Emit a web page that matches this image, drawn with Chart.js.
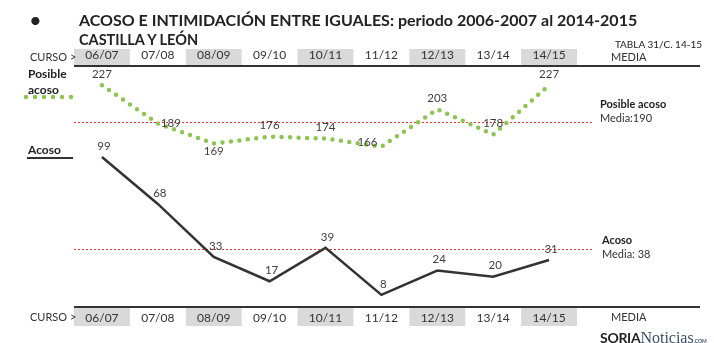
<!DOCTYPE html>
<html>
<head>
<meta charset="utf-8">
<script src="https://cdn.jsdelivr.net/npm/chart.js@4.4.1/dist/chart.umd.min.js"></script>
<style>
  html, body { margin: 0; padding: 0; background: #fff; }
  #wrap { position: relative; width: 714px; height: 343px; font-family: Lato, "Open Sans", sans-serif; color: #222; }
  #wrap canvas { position: absolute; left: 0; top: 0; }
  .t { position: absolute; white-space: nowrap; line-height: 1; }
  .b { font-weight: bold; }
</style>
</head>
<body>
<div id="wrap">
  <canvas id="acosoChart" width="714" height="343"></canvas>
  <div class="t" style="left:29px; top:9px; font-size:22px;">•</div>
  <div class="t b" style="left:79px; top:12px; font-size:16px;">ACOSO E INTIMIDACIÓN ENTRE IGUALES: periodo 2006-2007 al 2014-2015</div>
  <div class="t b" style="left:79px; top:33px; font-size:14.5px;">CASTILLA Y LEÓN</div>
  <div class="t" style="right:12px; top:39px; font-size:10px;">TABLA 31/C. 14-15</div>
  <div class="t" style="left:30px; top:51px; font-size:11px; color:#333;">CURSO &gt;</div>
  <div class="t" style="left:611px; top:51px; font-size:11px; color:#333;">MEDIA</div>
  <div class="t" style="left:30px; top:311px; font-size:11px; color:#333;">CURSO &gt;</div>
  <div class="t" style="left:611px; top:311px; font-size:11px; color:#333;">MEDIA</div>
  <div class="t b" style="left:28px; top:68px; font-size:12px;">Posible</div>
  <div class="t b" style="left:28px; top:84px; font-size:12px;">acoso</div>
  <div class="t b" style="left:28px; top:144px; font-size:12px;">Acoso</div>
  <div class="t b" style="left:600px; top:98px; font-size:11px;">Posible acoso</div>
  <div class="t" style="left:600px; top:112px; font-size:11px; color:#333;">Media:190</div>
  <div class="t b" style="left:602px; top:234px; font-size:11px;">Acoso</div>
  <div class="t" style="left:602px; top:248px; font-size:11px; color:#333;">Media: 38</div>
  <div class="t" style="left:600px; top:330px; font-size:14px;">
    <span style="font-weight:bold; color:#222; letter-spacing:-0.3px;">SORIA</span><span style="font-family:'Liberation Serif', serif; color:#3d4f63; font-size:16px;">Noticias</span><span style="font-size:5px; font-weight:bold; color:#3d4f63;">.COM</span>
  </div>
</div>

<script>
const cursos = ["06/07", "07/08", "08/09", "09/10", "10/11", "11/12", "12/13", "13/14", "14/15"];
const posibleAcoso = [227, 189, 169, 176, 174, 166, 203, 178, 227];
const acoso = [99, 68, 33, 17, 39, 8, 24, 20, 31];
const mediaPosible = 190;
const mediaAcoso = 38;

// donde va cada etiqueta de valor de la serie "posible acoso"
const posPosible = ["above", "right", "below", "above", "above", "left", "above", "above", "above"];

const greenDots = "#8fc454";
const darkLine = "#333333";
const redDots = "#e8322e";

// cajas grises de los cursos, lineas de cabecera y lineas de media
const decoracion = {
  id: "decoracion",
  beforeDraw(chart) {
    const { ctx, chartArea } = chart;
    const xs = chart.scales.x;
    const band = chartArea.width / cursos.length;
    ctx.save();
    ctx.fillStyle = "#d9d9d9";
    cursos.forEach((c, i) => {
      if (i % 2 !== 0) return;
      const cx = xs.getPixelForValue(i);
      ctx.fillRect(cx - band / 2, chartArea.top - 17, band, 16);
      ctx.fillRect(cx - band / 2, chartArea.bottom + 1, band, 18);
    });
    ctx.restore();
  },
  beforeDatasetsDraw(chart) {
    const { ctx, chartArea } = chart;
    ctx.save();
    // lineas de cabecera
    ctx.strokeStyle = "#333";
    ctx.lineWidth = 2;
    ctx.beginPath();
    ctx.moveTo(chartArea.left, chartArea.top);
    ctx.lineTo(700, chartArea.top);
    ctx.moveTo(chartArea.left, chartArea.bottom);
    ctx.lineTo(700, chartArea.bottom);
    ctx.stroke();

    // medias (en medio pixel para que salgan nitidas)
    ctx.strokeStyle = redDots;
    ctx.lineWidth = 1;
    ctx.setLineDash([2, 2]);
    const yP = Math.round(chart.scales.yP.getPixelForValue(mediaPosible)) + 0.5;
    const yA = Math.round(chart.scales.yA.getPixelForValue(mediaAcoso)) + 0.5;
    ctx.beginPath();
    ctx.moveTo(Math.round(chartArea.left), yP);
    ctx.lineTo(593, yP);
    ctx.stroke();
    ctx.beginPath();
    ctx.moveTo(Math.round(chartArea.left), yA);
    ctx.lineTo(593, yA);
    ctx.stroke();

    // muestras de la leyenda izquierda
    ctx.setLineDash([0, 9]);
    ctx.lineCap = "round";
    ctx.strokeStyle = greenDots;
    ctx.lineWidth = 4.5;
    ctx.beginPath();
    ctx.moveTo(26, 97);
    ctx.lineTo(74, 97);
    ctx.stroke();
    ctx.setLineDash([]);
    ctx.lineCap = "butt";
    ctx.strokeStyle = darkLine;
    ctx.lineWidth = 2;
    ctx.beginPath();
    ctx.moveTo(27, 158);
    ctx.lineTo(73, 158);
    ctx.stroke();
    ctx.restore();
  },
  afterDatasetsDraw(chart) {
    const { ctx } = chart;
    ctx.save();
    ctx.font = "11.5px Lato, sans-serif";
    ctx.fillStyle = "#404040";
    ctx.textBaseline = "middle";
    chart.getDatasetMeta(0).data.forEach((pt, i) => {
      const pos = posPosible[i];
      let x = pt.x, y = pt.y;
      ctx.textAlign = "center";
      if (pos === "above") y -= 11;
      else if (pos === "below") y += 8;
      else if (pos === "right") { ctx.textAlign = "left"; x += 3; }
      else if (pos === "left") { ctx.textAlign = "right"; x -= 4; y -= 4; }
      ctx.fillText(String(posibleAcoso[i]), x, y);
    });
    ctx.textAlign = "center";
    chart.getDatasetMeta(1).data.forEach((pt, i) => {
      ctx.fillText(String(acoso[i]), pt.x + 2, pt.y - 11);
    });
    ctx.restore();
  }
};

const ejeCurso = {
  type: "category",
  labels: cursos,
  offset: true,
  grid: { display: false, drawTicks: false },
  border: { display: false },
  ticks: { color: "#333", padding: 4, font: { family: "Lato", size: 12 } }
};

new Chart(document.getElementById("acosoChart"), {
  type: "line",
  data: {
    labels: cursos,
    datasets: [
      {
        label: "Posible acoso",
        data: posibleAcoso,
        yAxisID: "yP",
        xAxisID: "x",
        borderColor: greenDots,
        borderWidth: 4.5,
        borderDash: [0, 8.5],
        borderCapStyle: "round",
        pointRadius: 0,
        tension: 0
      },
      {
        label: "Acoso",
        data: acoso,
        yAxisID: "yA",
        xAxisID: "x",
        borderColor: darkLine,
        borderWidth: 2.5,
        pointRadius: 0,
        tension: 0
      }
    ]
  },
  options: {
    responsive: false,
    animation: false,
    layout: { padding: { left: 74, right: 137, top: 43.6, bottom: 13.6 } },
    plugins: {
      legend: { display: false },
      tooltip: { enabled: false },
      title: { display: false }
    },
    scales: {
      x: Object.assign({}, ejeCurso, { position: "bottom" }),
      xTop: Object.assign({}, ejeCurso, { position: "top" }),
      yP: { min: 7, max: 246, display: false },
      yA: { min: 0, max: 159, display: false }
    }
  },
  plugins: [decoracion]
});
</script>
</body>
</html>
